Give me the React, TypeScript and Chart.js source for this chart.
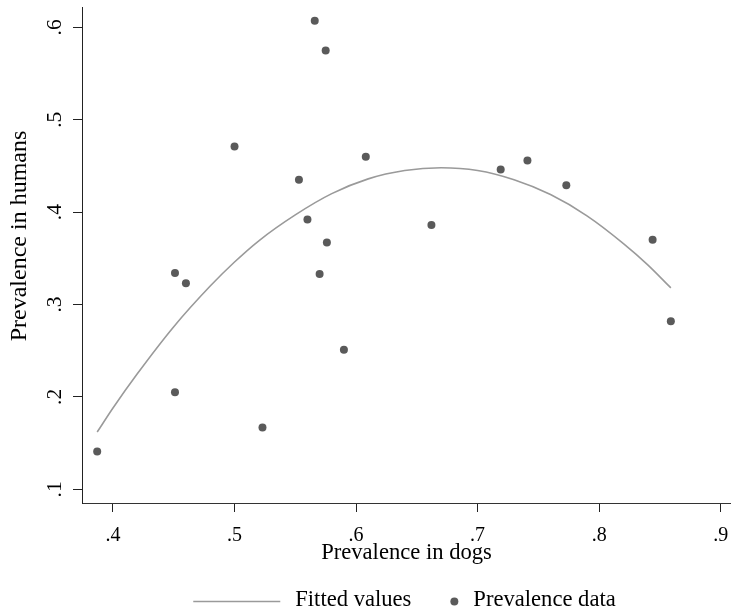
import { useEffect, useRef } from "react";
import { Chart, registerables } from "chart.js";

Chart.register(...registerables);

// Observed prevalence pairs (dogs vs. humans)
const dogPrevalence = [
  0.387, 0.451, 0.451, 0.46, 0.5, 0.523, 0.553, 0.56, 0.566, 0.57,
  0.575, 0.576, 0.59, 0.608, 0.662, 0.719, 0.741, 0.773, 0.844, 0.859,
];
const humanPrevalence = [
  0.141, 0.334, 0.205, 0.323, 0.471, 0.167, 0.435, 0.392, 0.607, 0.333,
  0.575, 0.367, 0.251, 0.46, 0.386, 0.446, 0.456, 0.429, 0.37, 0.282,
];

// Fitted (quadratic) values along the dog-prevalence range
const fittedDogs = [
  0.387, 0.4, 0.42, 0.45, 0.48, 0.5, 0.52, 0.55, 0.58, 0.61,
  0.64, 0.67, 0.7, 0.73, 0.76, 0.79, 0.82, 0.84, 0.859,
];
const fittedHumans = [
  0.162, 0.188, 0.225, 0.276, 0.32, 0.346, 0.369, 0.397, 0.42, 0.436,
  0.445, 0.448, 0.445, 0.435, 0.419, 0.396, 0.366, 0.343, 0.318,
];

const xTicks = [0.4, 0.5, 0.6, 0.7, 0.8, 0.9];
const yTicks = [0.1, 0.2, 0.3, 0.4, 0.5, 0.6];

const xTitle = "Prevalence in dogs";
const yTitle = "Prevalence in humans";
const fittedLabel = "Fitted values";
const dataLabel = "Prevalence data";

const FONT = '"Liberation Serif", "Times New Roman", serif';
const LINE_COLOR = "#9a9a9a";
const DOT_COLOR = "#5a5a5a";

const fmt = (v: number) => String(Number(v.toFixed(2))).replace(/^0\./, ".");

// Rotated y-axis title and the bottom legend row
const extrasPlugin = {
  id: "extras",
  afterDraw(chart: any) {
    const { ctx, chartArea } = chart;
    ctx.save();
    ctx.fillStyle = "#000";
    ctx.textBaseline = "middle";

    // y-axis title
    ctx.save();
    ctx.font = `24px ${FONT}`;
    ctx.translate(20, (chartArea.top + chartArea.bottom) / 2 - 19);
    ctx.rotate(-Math.PI / 2);
    ctx.textAlign = "center";
    ctx.fillText(yTitle, 0, 0);
    ctx.restore();

    // legend
    ctx.font = `22.6px ${FONT}`;
    const w1 = ctx.measureText(fittedLabel).width;
    const w2 = ctx.measureText(dataLabel).width;
    const lineLen = 87;
    const total = lineLen + 15 + w1 + 43 + 19 + w2;
    const cx = (chartArea.left + chartArea.right) / 2;
    let x = cx - total / 2 - 2;
    const y = 601.5;
    ctx.strokeStyle = LINE_COLOR;
    ctx.lineWidth = 1.6;
    ctx.beginPath();
    ctx.moveTo(x, y);
    ctx.lineTo(x + lineLen, y);
    ctx.stroke();
    x += lineLen + 15;
    ctx.textAlign = "left";
    ctx.fillText(fittedLabel, x, y - 1);
    x += w1 + 43;
    ctx.fillStyle = DOT_COLOR;
    ctx.beginPath();
    ctx.arc(x, y, 4, 0, Math.PI * 2);
    ctx.fill();
    x += 19;
    ctx.fillStyle = "#000";
    ctx.fillText(dataLabel, x, y - 1);
    ctx.restore();
  },
};

export default function App() {
  const canvasRef = useRef<HTMLCanvasElement | null>(null);

  useEffect(() => {
    const canvas = canvasRef.current;
    if (!canvas) return;

    const chart = new Chart(canvas, {
      type: "scatter",
      data: {
        datasets: [
          {
            label: dataLabel,
            data: dogPrevalence.map((x, i) => ({ x, y: humanPrevalence[i] })),
            pointRadius: 4,
            pointHoverRadius: 4,
            pointBackgroundColor: DOT_COLOR,
            pointBorderWidth: 0,
            showLine: false,
            clip: false,
            order: 0,
          },
          {
            label: fittedLabel,
            data: fittedDogs.map((x, i) => ({ x, y: fittedHumans[i] })),
            showLine: true,
            pointRadius: 0,
            borderColor: LINE_COLOR,
            borderWidth: 1.6,
            cubicInterpolationMode: "monotone",
            order: 1,
          },
        ],
      },
      options: {
        responsive: false,
        animation: false,
        layout: { autoPadding: false, padding: { left: 0, right: 0, top: 7, bottom: 41 } },
        plugins: {
          legend: { display: false },
          tooltip: { enabled: false },
        },
        scales: {
          x: {
            type: "linear",
            min: 0.3745,
            max: 0.9085,
            afterBuildTicks: (s: any) => {
              s.ticks = xTicks.map((value) => ({ value }));
            },
            afterFit: (s: any) => {
              s.height = 70;
              s.paddingLeft = 0;
              s.paddingRight = 0;
            },
            grid: {
              display: true,
              drawOnChartArea: false,
              drawTicks: true,
              tickLength: 9,
              color: "#222",
              lineWidth: 1,
            },
            border: { display: true, color: "#333", width: 1 },
            ticks: {
              padding: 12,
              color: "#000",
              font: { family: FONT, size: 20 },
              maxRotation: 0,
              minRotation: 0,
              callback: (v: any) => fmt(Number(v)),
            },
            title: {
              display: true,
              text: xTitle,
              color: "#000",
              font: { family: FONT, size: 22.6 },
              padding: { top: 0, bottom: 6 },
            },
          },
          y: {
            type: "linear",
            min: 0.0852,
            max: 0.622,
            afterBuildTicks: (s: any) => {
              s.ticks = yTicks.map((value) => ({ value }));
            },
            afterFit: (s: any) => {
              s.width = 82;
              s.paddingTop = 0;
              s.paddingBottom = 0;
            },
            grid: {
              display: true,
              drawOnChartArea: false,
              drawTicks: true,
              tickLength: 9,
              color: "#222",
              lineWidth: 1,
            },
            border: { display: true, color: "#222", width: 1 },
            ticks: {
              padding: 10,
              color: "#000",
              crossAlign: "center",
              minRotation: 90,
              maxRotation: 90,
              font: { family: FONT, size: 21.5 },
              callback: (v: any) => fmt(Number(v)),
            },
            title: { display: false },
          },
        },
      },
      plugins: [extrasPlugin],
    } as any);

    return () => chart.destroy();
  }, []);

  return (
    <div style={{ position: "absolute", left: 0, top: 0, width: 731, height: 614, background: "#fff" }}>
      <canvas ref={canvasRef} width={731} height={614} style={{ display: "block" }} />
    </div>
  );
}
